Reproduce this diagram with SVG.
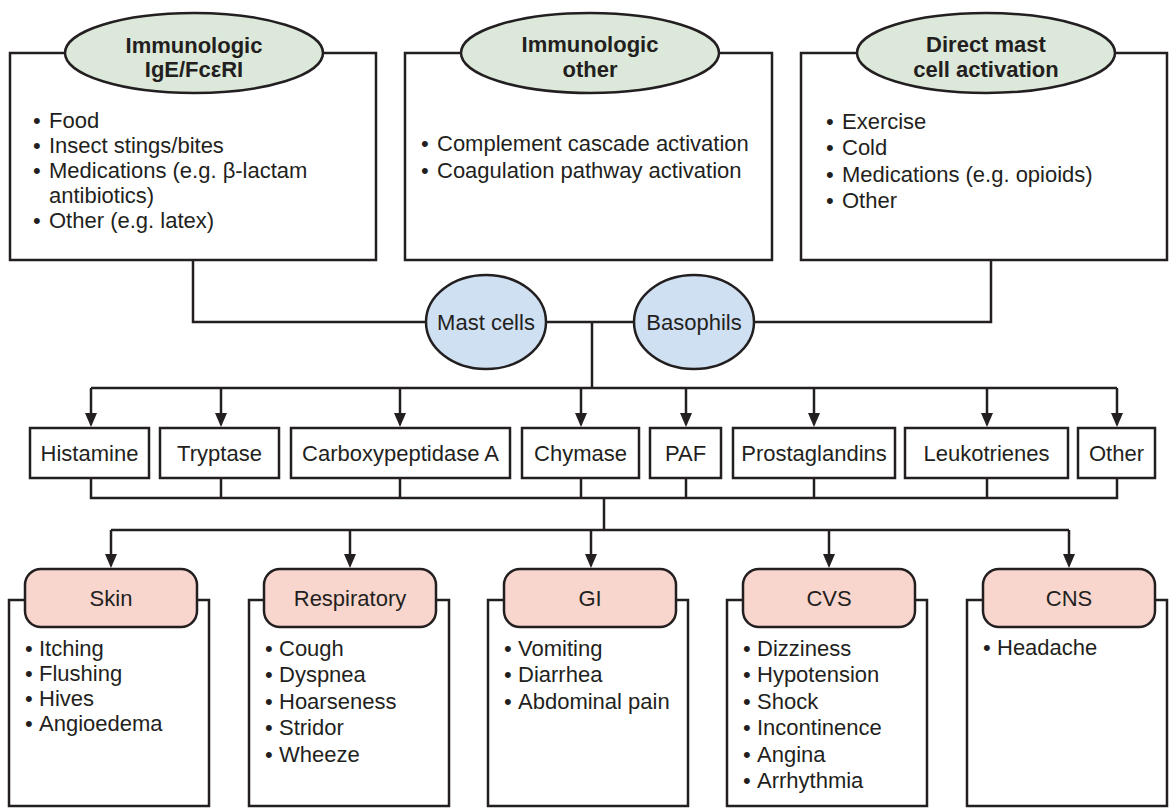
<svg xmlns="http://www.w3.org/2000/svg" width="1175" height="808" viewBox="0 0 1175 808">
<style>
.box{fill:#fff;stroke:#231f20;stroke-width:2.5}
.src{fill:#dce8d9;stroke:#231f20;stroke-width:2.5}
.cell{fill:#cfe0f3;stroke:#231f20;stroke-width:2.5}
.sys{fill:#f8d6ce;stroke:#231f20;stroke-width:2.5}
.ln{fill:none;stroke:#231f20;stroke-width:2.5}
.t{font-family:"Liberation Sans",Arial,Helvetica,sans-serif;font-size:22px;fill:#231f20}
.b{font-weight:bold}
.c{text-anchor:middle}
</style>
<defs>
<marker id="ah" viewBox="0 0 14 12" refX="4" refY="6" markerWidth="14" markerHeight="12" markerUnits="userSpaceOnUse" orient="auto">
<path d="M0,0 L14,6 L0,12 z" fill="#231f20"/>
</marker>
</defs>

<g id="connectors">
<path class="ln" d="M193,260 V322 H426"/>
<path class="ln" d="M546,322 H634"/>
<path class="ln" d="M754,322 H991 V260"/>
<path class="ln" d="M592,322 V388"/>
<path class="ln" d="M91,388 H1117"/>
<path class="ln" d="M91,388 V417" marker-end="url(#ah)"/>
<path class="ln" d="M221,388 V417" marker-end="url(#ah)"/>
<path class="ln" d="M400,388 V417" marker-end="url(#ah)"/>
<path class="ln" d="M581,388 V417" marker-end="url(#ah)"/>
<path class="ln" d="M686,388 V417" marker-end="url(#ah)"/>
<path class="ln" d="M814,388 V417" marker-end="url(#ah)"/>
<path class="ln" d="M987,388 V417" marker-end="url(#ah)"/>
<path class="ln" d="M1117,388 V417" marker-end="url(#ah)"/>
<path class="ln" d="M91,478 V498 H1117 V478 M221,478 V498 M400,478 V498 M581,478 V498 M686,478 V498 M814,478 V498 M987,478 V498"/>
<path class="ln" d="M604,498 V530"/>
<path class="ln" d="M111,530 H1069"/>
<path class="ln" d="M111,530 V558" marker-end="url(#ah)"/>
<path class="ln" d="M350,530 V558" marker-end="url(#ah)"/>
<path class="ln" d="M591,530 V558" marker-end="url(#ah)"/>
<path class="ln" d="M829,530 V558" marker-end="url(#ah)"/>
<path class="ln" d="M1069,530 V558" marker-end="url(#ah)"/>
</g>

<g id="src-ige">
<rect class="box" x="10" y="53" width="366" height="207"/>
<ellipse class="src" cx="194" cy="53" rx="129" ry="40"/>
<text class="t b c" x="194" y="53">Immunologic</text>
<text class="t b c" x="194" y="77">IgE/FcεRI</text>
<text class="t" y="128"><tspan x="33">•</tspan><tspan x="49">Food</tspan></text>
<text class="t" y="153"><tspan x="33">•</tspan><tspan x="49">Insect stings/bites</tspan></text>
<text class="t" y="178"><tspan x="33">•</tspan><tspan x="49">Medications (e.g. β-lactam</tspan></text>
<text class="t" x="49" y="203">antibiotics)</text>
<text class="t" y="228"><tspan x="33">•</tspan><tspan x="49">Other (e.g. latex)</tspan></text>
</g>

<g id="src-other">
<rect class="box" x="405" y="53" width="367" height="207"/>
<ellipse class="src" cx="590" cy="53" rx="129" ry="40"/>
<text class="t b c" x="590" y="52">Immunologic</text>
<text class="t b c" x="590" y="77">other</text>
<text class="t" y="151"><tspan x="421">•</tspan><tspan x="437">Complement cascade activation</tspan></text>
<text class="t" y="178"><tspan x="421">•</tspan><tspan x="437">Coagulation pathway activation</tspan></text>
</g>

<g id="src-direct">
<rect class="box" x="801" y="53" width="366" height="207"/>
<ellipse class="src" cx="986" cy="53" rx="129" ry="40"/>
<text class="t b c" x="986" y="52">Direct mast</text>
<text class="t b c" x="986" y="77">cell activation</text>
<text class="t" y="129"><tspan x="826">•</tspan><tspan x="842">Exercise</tspan></text>
<text class="t" y="155"><tspan x="826">•</tspan><tspan x="842">Cold</tspan></text>
<text class="t" y="182"><tspan x="826">•</tspan><tspan x="842">Medications (e.g. opioids)</tspan></text>
<text class="t" y="208"><tspan x="826">•</tspan><tspan x="842">Other</tspan></text>
</g>

<g id="mast-cells">
<ellipse class="cell" cx="486" cy="322" rx="60" ry="47"/>
<text class="t c" x="486" y="330">Mast cells</text>
</g>
<g id="basophils">
<ellipse class="cell" cx="694" cy="322" rx="60" ry="47"/>
<text class="t c" x="694" y="330">Basophils</text>
</g>

<g id="histamine"><rect class="box" x="30" y="428" width="119" height="50"/><text class="t c" x="89.5" y="461">Histamine</text></g>
<g id="tryptase"><rect class="box" x="160" y="428" width="119" height="50"/><text class="t c" x="219.5" y="461">Tryptase</text></g>
<g id="carboxypeptidase"><rect class="box" x="291" y="428" width="219" height="50"/><text class="t c" x="400.5" y="461">Carboxypeptidase A</text></g>
<g id="chymase"><rect class="box" x="522" y="428" width="117" height="50"/><text class="t c" x="580.5" y="461">Chymase</text></g>
<g id="paf"><rect class="box" x="650" y="428" width="71" height="50"/><text class="t c" x="685.5" y="461">PAF</text></g>
<g id="prostaglandins"><rect class="box" x="733" y="428" width="162" height="50"/><text class="t c" x="814" y="461">Prostaglandins</text></g>
<g id="leukotrienes"><rect class="box" x="905" y="428" width="163" height="50"/><text class="t c" x="986.5" y="461">Leukotrienes</text></g>
<g id="other-mediators"><rect class="box" x="1078" y="428" width="77" height="50"/><text class="t c" x="1116.5" y="461">Other</text></g>

<g id="skin">
<rect class="box" x="9" y="600" width="200" height="206"/>
<rect class="sys" x="25" y="569" width="172" height="58" rx="16"/>
<text class="t c" x="111" y="606">Skin</text>
<text class="t" y="656"><tspan x="25">•</tspan><tspan x="39">Itching</tspan></text>
<text class="t" y="681"><tspan x="25">•</tspan><tspan x="39">Flushing</tspan></text>
<text class="t" y="706"><tspan x="25">•</tspan><tspan x="39">Hives</tspan></text>
<text class="t" y="731"><tspan x="25">•</tspan><tspan x="39">Angioedema</tspan></text>
</g>

<g id="respiratory">
<rect class="box" x="249" y="600" width="200" height="206"/>
<rect class="sys" x="264" y="569" width="172" height="58" rx="16"/>
<text class="t c" x="350" y="606">Respiratory</text>
<text class="t" y="656"><tspan x="265">•</tspan><tspan x="279">Cough</tspan></text>
<text class="t" y="682"><tspan x="265">•</tspan><tspan x="279">Dyspnea</tspan></text>
<text class="t" y="709"><tspan x="265">•</tspan><tspan x="279">Hoarseness</tspan></text>
<text class="t" y="735"><tspan x="265">•</tspan><tspan x="279">Stridor</tspan></text>
<text class="t" y="762"><tspan x="265">•</tspan><tspan x="279">Wheeze</tspan></text>
</g>

<g id="gi">
<rect class="box" x="488" y="600" width="200" height="206"/>
<rect class="sys" x="504" y="569" width="172" height="58" rx="16"/>
<text class="t c" x="590" y="606">GI</text>
<text class="t" y="656"><tspan x="504">•</tspan><tspan x="518">Vomiting</tspan></text>
<text class="t" y="682"><tspan x="504">•</tspan><tspan x="518">Diarrhea</tspan></text>
<text class="t" y="709"><tspan x="504">•</tspan><tspan x="518">Abdominal pain</tspan></text>
</g>

<g id="cvs">
<rect class="box" x="727" y="600" width="200" height="206"/>
<rect class="sys" x="743" y="569" width="172" height="58" rx="16"/>
<text class="t c" x="829" y="606">CVS</text>
<text class="t" y="656"><tspan x="743">•</tspan><tspan x="757">Dizziness</tspan></text>
<text class="t" y="682"><tspan x="743">•</tspan><tspan x="757">Hypotension</tspan></text>
<text class="t" y="709"><tspan x="743">•</tspan><tspan x="757">Shock</tspan></text>
<text class="t" y="735"><tspan x="743">•</tspan><tspan x="757">Incontinence</tspan></text>
<text class="t" y="762"><tspan x="743">•</tspan><tspan x="757">Angina</tspan></text>
<text class="t" y="788"><tspan x="743">•</tspan><tspan x="757">Arrhythmia</tspan></text>
</g>

<g id="cns">
<rect class="box" x="967" y="600" width="200" height="206"/>
<rect class="sys" x="983" y="569" width="172" height="58" rx="16"/>
<text class="t c" x="1069" y="606">CNS</text>
<text class="t" y="655"><tspan x="983">•</tspan><tspan x="997">Headache</tspan></text>
</g>
</svg>
